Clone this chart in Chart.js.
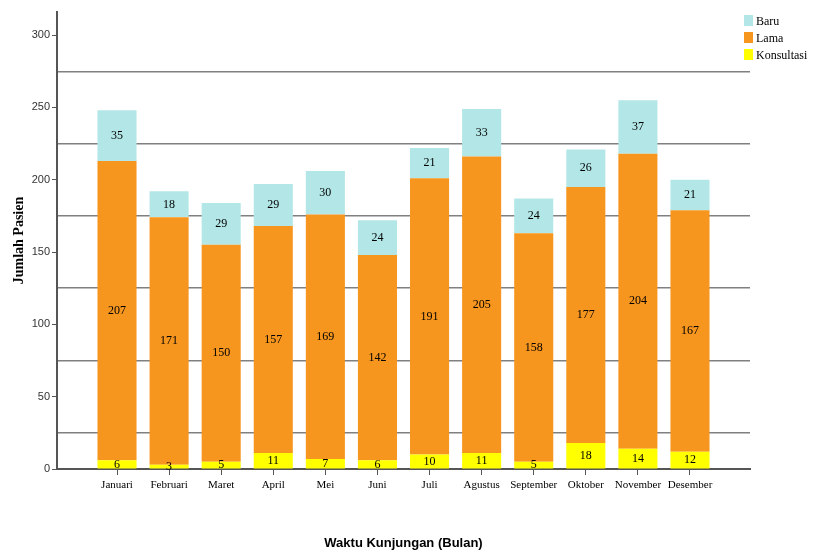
<!DOCTYPE html>
<html>
<head>
<meta charset="utf-8">
<script src="https://cdn.jsdelivr.net/npm/chart.js@4.4.0/dist/chart.umd.min.js"></script>
<style>
  body { margin: 0; background: #fff; }
  #wrap { position: relative; width: 818px; height: 551px; }
  #legend { position: absolute; left: 744px; top: 13px; font: 12px "Liberation Serif", serif; color: #000; }
  #legend div { height: 17px; line-height: 17px; white-space: nowrap; }
  #legend span { display: inline-block; width: 9px; height: 11px; margin-right: 3px; vertical-align: -1px; }
</style>
</head>
<body>
<div id="wrap">
  <canvas id="chart" width="818" height="551"></canvas>
  <div id="legend"></div>
</div>
<script>
// data
const months = ["Januari", "Februari", "Maret", "April", "Mei", "Juni", "Juli", "Agustus", "September", "Oktober", "November", "Desember"];
const konsultasi = [6, 3, 5, 11, 7, 6, 10, 11, 5, 18, 14, 12];
const lama = [207, 171, 150, 157, 169, 142, 191, 205, 158, 177, 204, 167];
const baru = [35, 18, 29, 29, 30, 24, 21, 33, 24, 26, 37, 21];
const yTicks = [0, 50, 100, 150, 200, 250, 300];
const yGridLines = [25, 75, 125, 175, 225, 275];

const colors = { Baru: "#b3e6e6", Lama: "#f7961f", Konsultasi: "#ffff00" };

function points(values) {
  return values.map((v, i) => ({ x: i, y: v }));
}

// Legend (top right)
const legend = document.getElementById("legend");
["Baru", "Lama", "Konsultasi"].forEach(name => {
  const row = document.createElement("div");
  const box = document.createElement("span");
  box.style.background = colors[name];
  row.appendChild(box);
  row.appendChild(document.createTextNode(name));
  legend.appendChild(row);
});

// value labels in the middle of each segment
const barLabels = {
  id: "barLabels",
  afterDatasetsDraw(chart) {
    const ctx = chart.ctx;
    ctx.save();
    ctx.font = '12px "Liberation Serif", serif';
    ctx.fillStyle = "#000";
    ctx.textAlign = "center";
    ctx.textBaseline = "middle";
    chart.data.datasets.forEach((ds, di) => {
      chart.getDatasetMeta(di).data.forEach((bar, i) => {
        const p = bar.getCenterPoint();
        ctx.fillText(ds.data[i].y, p.x, p.y);
      });
    });
    ctx.restore();
  }
};

const ctx = document.getElementById("chart").getContext("2d");
new Chart(ctx, {
  type: "bar",
  data: {
    datasets: [
      { label: "Konsultasi", data: points(konsultasi), backgroundColor: colors.Konsultasi },
      { label: "Lama", data: points(lama), backgroundColor: colors.Lama },
      { label: "Baru", data: points(baru), backgroundColor: colors.Baru }
    ]
  },
  options: {
    responsive: false,
    animation: false,
    devicePixelRatio: 1,
    layout: { padding: { top: 12, right: 68, left: 0, bottom: 0 } },
    barPercentage: 0.75,
    categoryPercentage: 1,
    plugins: {
      legend: { display: false },
      tooltip: { enabled: false }
    },
    scales: {
      x: {
        type: "linear",
        stacked: true,
        offset: false,
        min: -1.152,
        max: 12.152,
        afterBuildTicks: s => { s.ticks = months.map((m, i) => ({ value: i })); },
        afterFit: s => { s.height = 82; },
        ticks: {
          autoSkip: false,
          maxRotation: 0,
          padding: 4,
          color: "#000",
          font: { family: '"Liberation Serif", serif', size: 11 },
          callback: v => months[v]
        },
        grid: { offset: false, drawOnChartArea: false, tickLength: 6, color: "#555" },
        border: { color: "#555", width: 2 },
        title: {
          display: true,
          text: "Waktu Kunjungan (Bulan)",
          color: "#000",
          font: { family: '"Liberation Sans", Arial, sans-serif', size: 13, weight: "bold" },
          padding: { top: 0, bottom: 0 }
        }
      },
      y: {
        stacked: true,
        min: 0,
        max: 316,
        afterBuildTicks: s => { s.ticks = yTicks.map(v => ({ value: v })); },
        afterFit: s => { s.width = 57; },
        ticks: {
          padding: 2,
          color: "#333",
          font: { family: '"Liberation Sans", Arial, sans-serif', size: 11 }
        },
        grid: { drawOnChartArea: false, tickLength: 5, color: "#555" },
        border: { color: "#555", width: 2 },
        title: {
          display: true,
          text: "Jumlah Pasien",
          color: "#000",
          font: { family: '"Liberation Serif", serif', size: 14, weight: "bold" },
          padding: { top: 11, bottom: 0 }
        }
      },
      yGrid: {
        type: "linear",
        axis: "y",
        position: "left",
        min: 0,
        max: 316,
        afterBuildTicks: s => { s.ticks = yGridLines.map(v => ({ value: v })); },
        afterFit: s => { s.width = 0; },
        ticks: { display: false },
        grid: { color: "#808080", lineWidth: 1.5, drawTicks: false },
        border: { display: false }
      }
    }
  },
  plugins: [barLabels]
});
</script>
</body>
</html>
